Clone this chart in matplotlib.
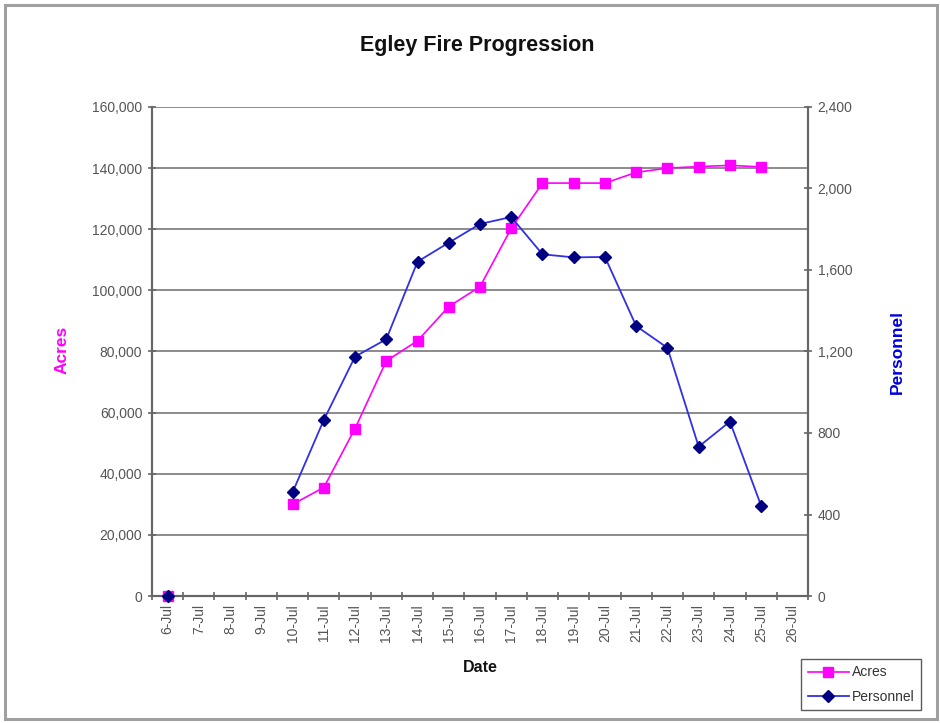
import numpy as np
import matplotlib
matplotlib.use('Agg')
import matplotlib.pyplot as plt
from matplotlib.patches import Rectangle
from matplotlib.ticker import FuncFormatter, MultipleLocator

plt.rcParams['font.family'] = ['Liberation Sans', 'DejaVu Sans']

# Data (NaN = no value that day)
dates = ['6-Jul', '7-Jul', '8-Jul', '9-Jul', '10-Jul', '11-Jul', '12-Jul', '13-Jul',
         '14-Jul', '15-Jul', '16-Jul', '17-Jul', '18-Jul', '19-Jul', '20-Jul', '21-Jul',
         '22-Jul', '23-Jul', '24-Jul', '25-Jul', '26-Jul']
acres = [0, np.nan, np.nan, np.nan, 30000, 35500, 54800, 76900,
         83500, 94700, 101200, 120300, 135100, 135100, 135100, 138600,
         140000, 140500, 140900, 140400, np.nan]
personnel = [0, np.nan, np.nan, np.nan, 509, 864, 1175, 1260,
             1641, 1734, 1826, 1860, 1677, 1662, 1664, 1325,
             1218, 733, 856, 443, np.nan]

tick_color = '#555555'
spine_color = '#666666'

fig = plt.figure(figsize=(9.4, 7.23), dpi=100)
ax1 = fig.add_axes([152 / 940, 1 - 596 / 723, 656 / 940, 489 / 723])
ax2 = ax1.twinx()

x = np.arange(len(dates))

# Acres (left axis)
l1, = ax1.plot(x, acres, color='#ff00ff', lw=1.2, marker='s', markersize=6.5,
               markerfacecolor='#ff00ff', markeredgecolor='#ff00ff', label='Acres',
               clip_on=False, zorder=3)
ax1.set_ylim(0, 160000)
ax1.yaxis.set_major_locator(MultipleLocator(20000))
ax1.yaxis.set_major_formatter(FuncFormatter(lambda v, p: f'{int(v):,}'))
ax1.grid(axis='y', color='#787878', lw=1.2)
ax1.set_axisbelow(True)

# Personnel (right axis)
l2, = ax2.plot(x, personnel, color='#3030e8', lw=1.3, marker='D', markersize=6,
               markerfacecolor='#000080', markeredgecolor='#000080', label='Personnel',
               clip_on=False, zorder=4)
ax2.set_ylim(0, 2400)
ax2.yaxis.set_major_locator(MultipleLocator(400))
ax2.yaxis.set_major_formatter(FuncFormatter(lambda v, p: f'{int(v):,}'))

# Category axis: labels on centres, tick marks between categories
ax1.set_xlim(-0.5, len(dates) - 0.5)
ax1.set_xticks(x)
ax1.set_xticklabels(dates, rotation=90, fontsize=10, color=tick_color)
ax1.set_xticks(np.arange(-0.5, len(dates), 1.0), minor=True)
ax1.tick_params(axis='x', which='major', length=0, pad=6)
ax1.tick_params(axis='x', which='minor', length=6, direction='inout',
                color=spine_color, width=1.2)

ax1.tick_params(axis='y', length=6, direction='inout', color=spine_color, width=1.2,
                labelsize=10, labelcolor=tick_color, pad=4)
ax2.tick_params(axis='y', length=6, direction='inout', color=spine_color, width=1.2,
                labelsize=10, labelcolor=tick_color, pad=4)

for ax in (ax1, ax2):
    ax.spines['top'].set_visible(False)
    for s in ('left', 'right', 'bottom'):
        ax.spines[s].set_color(spine_color)
        ax.spines[s].set_linewidth(1.5)

# Labels
fig.text(477 / 940, 1 - 46 / 723, 'Egley Fire Progression', fontsize=15.5,
         fontweight='bold', ha='center', va='center', color='#111111')
fig.text(480 / 940, 1 - 668 / 723, 'Date', fontsize=11.5, fontweight='bold',
         ha='center', va='center', color='#111111')
fig.text(62 / 940, 1 - 350 / 723, 'Acres', fontsize=12.5, fontweight='bold',
         rotation=90, ha='center', va='center', color='#ff00ff')
fig.text(897 / 940, 1 - 352 / 723, 'Personnel', fontsize=12.5, fontweight='bold',
         rotation=90, ha='center', va='center', color='#0000dd')

# Legend
leg = fig.legend(handles=[l1, l2], loc='lower right',
                 bbox_to_anchor=(928 / 940, 6 / 723), fontsize=10,
                 frameon=True, fancybox=False, borderpad=0.45, handlelength=3,
                 handletextpad=0.2, labelspacing=0.75)
leg.get_frame().set_edgecolor('#333333')
leg.get_frame().set_linewidth(1.0)
for t in leg.get_texts():
    t.set_color('#333333')

# Outer chart border
fig.patches.append(Rectangle((5 / 940, 4 / 723), 932 / 940, 714 / 723,
                             transform=fig.transFigure, fill=False,
                             edgecolor='#a0a0a0', lw=2.2))

fig.savefig('out.png', dpi=100)
